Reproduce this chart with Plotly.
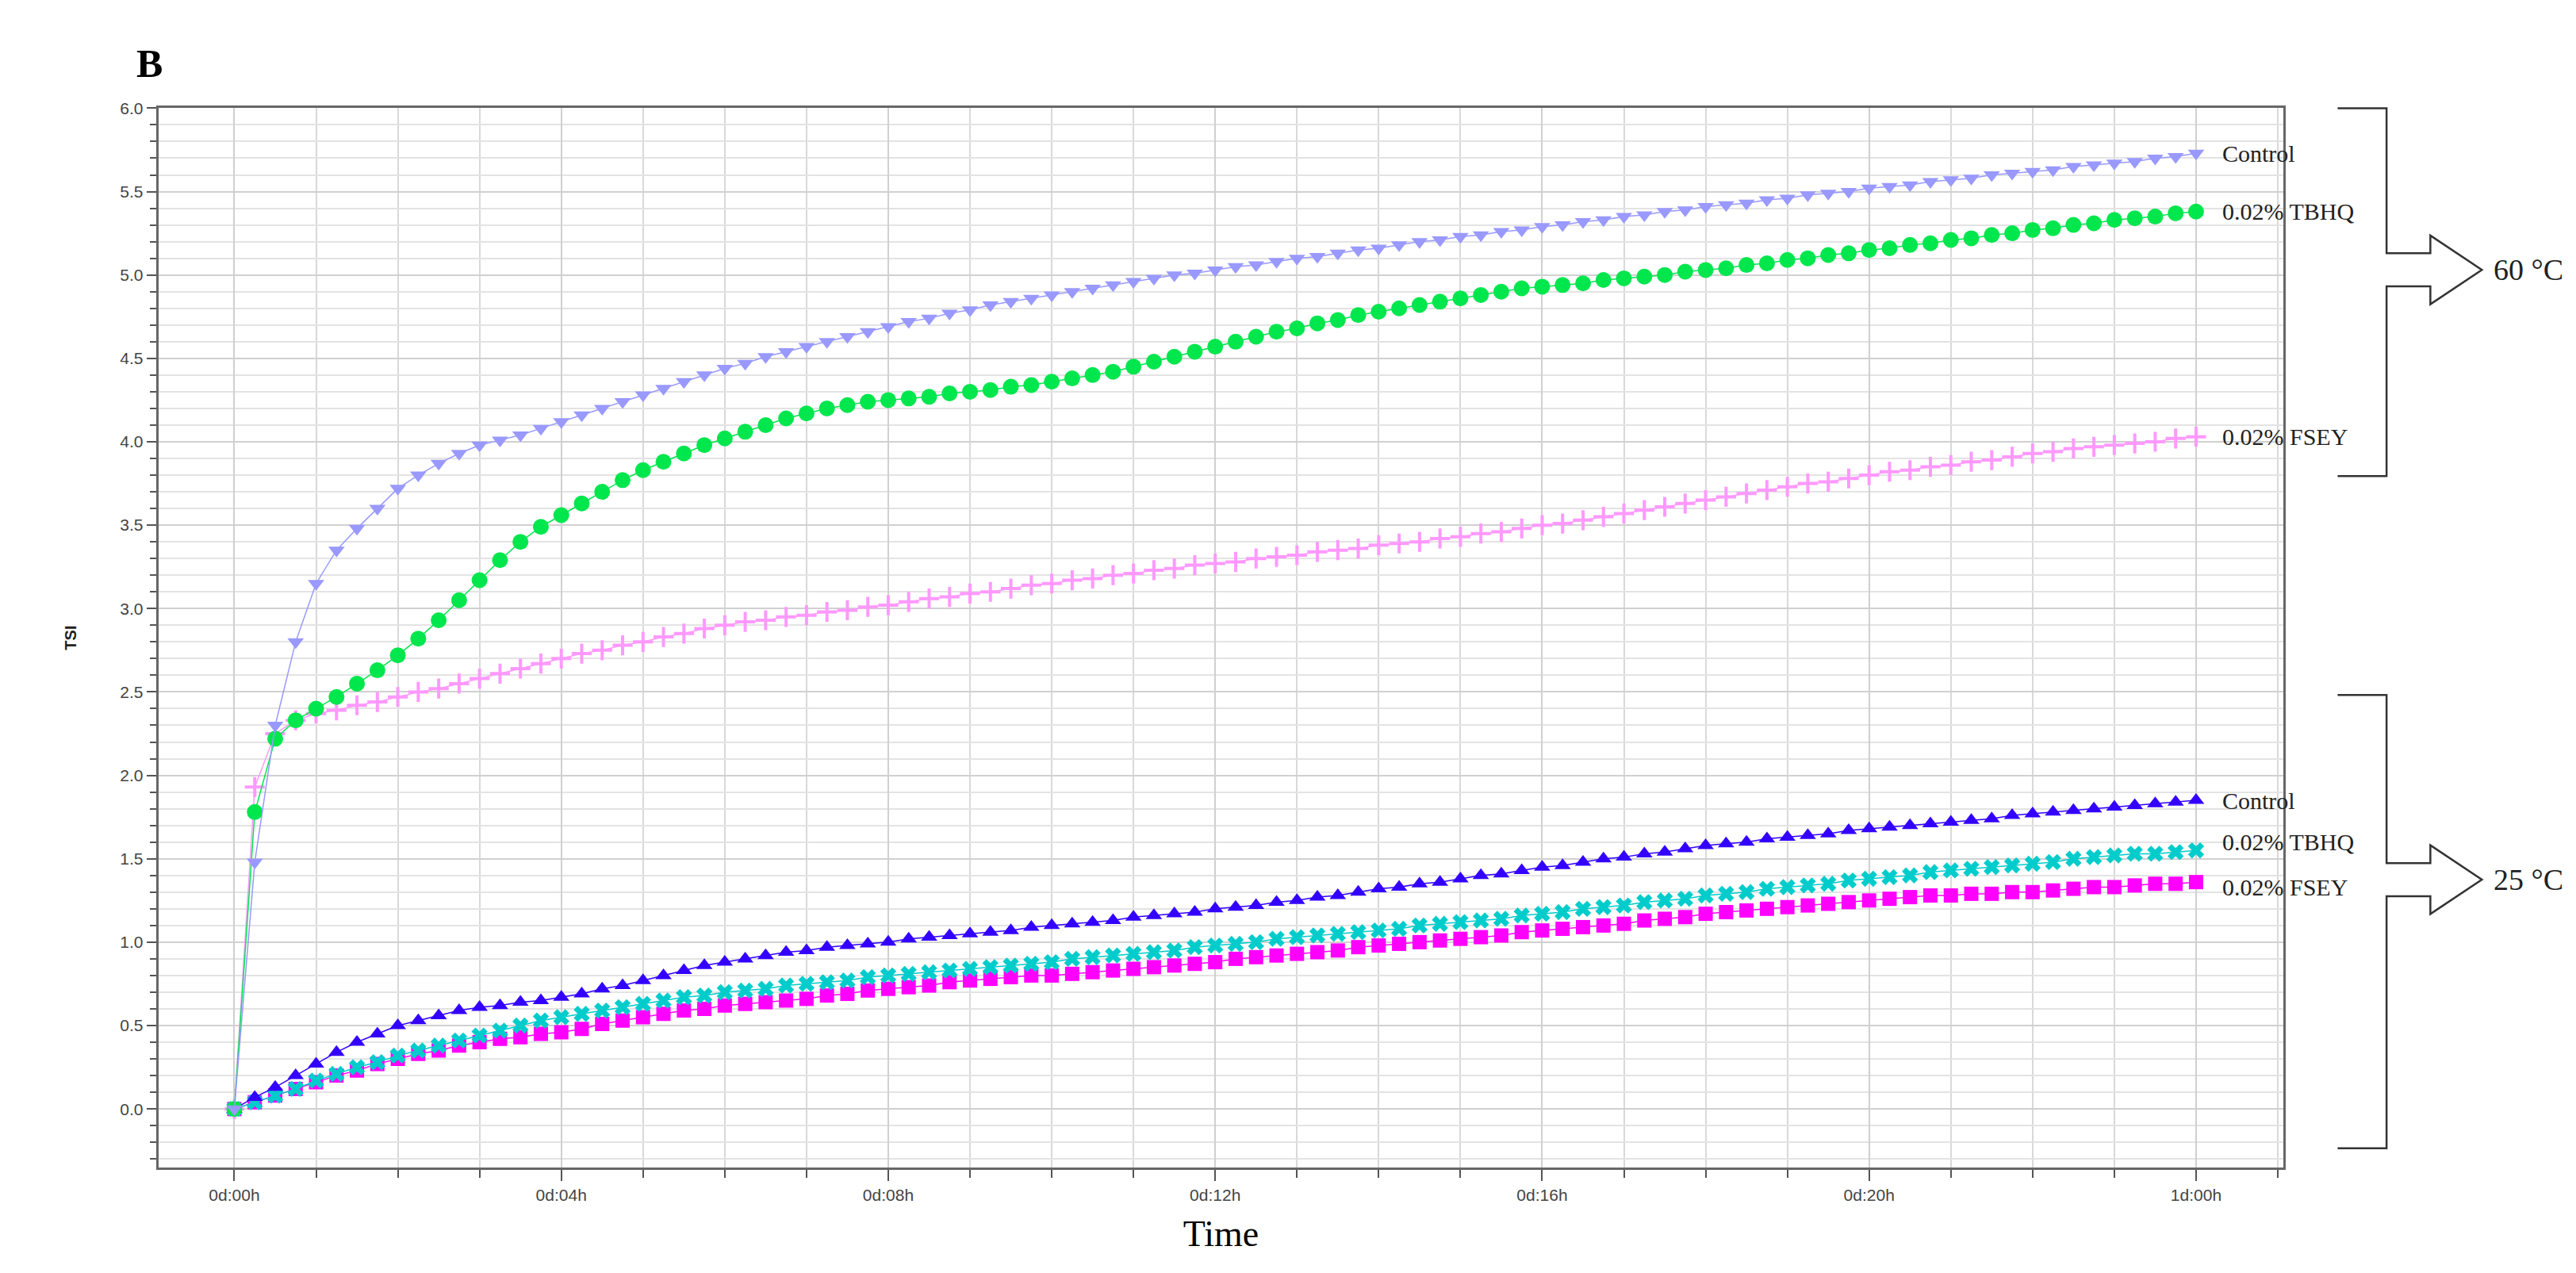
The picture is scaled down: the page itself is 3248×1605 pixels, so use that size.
import plotly.graph_objects as go

time_h = [i * 0.25 for i in range(97)]

ctrl_60 = [0,
 1.48, 2.30, 2.80, 3.15, 3.35, 3.48, 3.60, 3.72, 3.80, 3.87, 3.93, 3.98,
 4.01, 4.04, 4.08, 4.12, 4.16, 4.20, 4.24, 4.28, 4.32, 4.36, 4.40, 4.44,
 4.47, 4.51, 4.54, 4.57, 4.60, 4.63, 4.66, 4.69, 4.72, 4.74, 4.77, 4.79,
 4.82, 4.84, 4.86, 4.88, 4.90, 4.92, 4.94, 4.96, 4.98, 5.00, 5.01, 5.03,
 5.05, 5.06, 5.08, 5.10, 5.11, 5.13, 5.15, 5.16, 5.18, 5.20, 5.21, 5.23,
 5.24, 5.26, 5.27, 5.29, 5.30, 5.32, 5.33, 5.35, 5.36, 5.38, 5.39, 5.41,
 5.42, 5.43, 5.45, 5.46, 5.48, 5.49, 5.50, 5.52, 5.53, 5.54, 5.56, 5.57,
 5.58, 5.60, 5.61, 5.62, 5.63, 5.65, 5.66, 5.67, 5.68, 5.70, 5.71, 5.73]

tbhq_60 = [0,
 1.78, 2.22, 2.33, 2.40, 2.47, 2.55, 2.63, 2.72, 2.82, 2.93, 3.05, 3.17,
 3.29, 3.40, 3.49, 3.56, 3.63, 3.70, 3.77, 3.83, 3.88, 3.93, 3.98, 4.02,
 4.06, 4.10, 4.14, 4.17, 4.20, 4.22, 4.24, 4.25, 4.26, 4.27, 4.29, 4.30,
 4.31, 4.33, 4.34, 4.36, 4.38, 4.40, 4.42, 4.45, 4.48, 4.51, 4.54, 4.57,
 4.60, 4.63, 4.66, 4.68, 4.71, 4.73, 4.76, 4.78, 4.80, 4.82, 4.84, 4.86,
 4.88, 4.90, 4.92, 4.93, 4.94, 4.95, 4.97, 4.98, 4.99, 5.00, 5.02, 5.03,
 5.04, 5.06, 5.07, 5.09, 5.10, 5.12, 5.13, 5.15, 5.16, 5.18, 5.19, 5.21,
 5.22, 5.24, 5.25, 5.27, 5.28, 5.30, 5.31, 5.33, 5.34, 5.35, 5.37, 5.38]

fsey_60 = [0,
 1.93, 2.25, 2.33, 2.37, 2.39, 2.42, 2.44, 2.47, 2.50, 2.52, 2.55, 2.58,
 2.61, 2.64, 2.67, 2.70, 2.73, 2.75, 2.78, 2.80, 2.83, 2.85, 2.88, 2.90,
 2.92, 2.93, 2.95, 2.96, 2.98, 2.99, 3.01, 3.02, 3.04, 3.06, 3.07, 3.09,
 3.10, 3.12, 3.14, 3.15, 3.17, 3.18, 3.20, 3.21, 3.23, 3.24, 3.26, 3.27,
 3.28, 3.30, 3.31, 3.32, 3.34, 3.35, 3.36, 3.38, 3.39, 3.40, 3.42, 3.43,
 3.45, 3.46, 3.48, 3.50, 3.51, 3.53, 3.55, 3.57, 3.59, 3.61, 3.63, 3.65,
 3.67, 3.69, 3.71, 3.73, 3.75, 3.76, 3.78, 3.80, 3.82, 3.83, 3.85, 3.86,
 3.88, 3.89, 3.91, 3.93, 3.94, 3.96, 3.97, 3.98, 3.99, 4.00, 4.02, 4.03]

ctrl_25 = [0,
 0.07, 0.13, 0.20, 0.27, 0.34, 0.40, 0.45, 0.50, 0.53, 0.56, 0.59, 0.61,
 0.62, 0.64, 0.65, 0.67, 0.69, 0.72, 0.74, 0.77, 0.80, 0.83, 0.86, 0.88,
 0.90, 0.92, 0.94, 0.95, 0.97, 0.98, 0.99, 1.00, 1.02, 1.03, 1.04, 1.05,
 1.06, 1.07, 1.09, 1.10, 1.11, 1.12, 1.13, 1.15, 1.16, 1.17, 1.18, 1.20,
 1.21, 1.22, 1.24, 1.25, 1.27, 1.28, 1.30, 1.32, 1.33, 1.35, 1.36, 1.38,
 1.40, 1.41, 1.43, 1.45, 1.46, 1.48, 1.50, 1.51, 1.53, 1.54, 1.56, 1.58,
 1.59, 1.60, 1.62, 1.63, 1.64, 1.65, 1.67, 1.68, 1.69, 1.70, 1.71, 1.72,
 1.73, 1.74, 1.76, 1.77, 1.78, 1.79, 1.80, 1.81, 1.82, 1.83, 1.84, 1.85]

tbhq_25 = [0,
 0.04, 0.08, 0.12, 0.17, 0.21, 0.25, 0.28, 0.32, 0.35, 0.38, 0.41, 0.44,
 0.47, 0.50, 0.53, 0.55, 0.57, 0.59, 0.61, 0.63, 0.65, 0.67, 0.68, 0.70,
 0.71, 0.72, 0.74, 0.75, 0.76, 0.77, 0.79, 0.80, 0.81, 0.82, 0.83, 0.84,
 0.85, 0.86, 0.87, 0.88, 0.90, 0.91, 0.92, 0.93, 0.94, 0.95, 0.97, 0.98,
 0.99, 1.00, 1.02, 1.03, 1.04, 1.05, 1.06, 1.07, 1.08, 1.10, 1.11, 1.12,
 1.13, 1.14, 1.16, 1.17, 1.18, 1.20, 1.21, 1.22, 1.24, 1.25, 1.26, 1.28,
 1.29, 1.30, 1.32, 1.33, 1.34, 1.35, 1.37, 1.38, 1.39, 1.40, 1.42, 1.43,
 1.44, 1.45, 1.46, 1.47, 1.48, 1.50, 1.51, 1.52, 1.53, 1.53, 1.54, 1.55]

fsey_25 = [0,
 0.04, 0.08, 0.12, 0.16, 0.20, 0.23, 0.27, 0.30, 0.33, 0.35, 0.38, 0.40,
 0.42, 0.43, 0.45, 0.46, 0.48, 0.51, 0.53, 0.55, 0.57, 0.59, 0.60, 0.62,
 0.63, 0.64, 0.65, 0.66, 0.68, 0.69, 0.71, 0.72, 0.73, 0.74, 0.76, 0.77,
 0.78, 0.79, 0.80, 0.80, 0.81, 0.82, 0.83, 0.84, 0.85, 0.86, 0.87, 0.88,
 0.90, 0.91, 0.92, 0.93, 0.94, 0.95, 0.97, 0.98, 0.99, 1.00, 1.01, 1.02,
 1.03, 1.04, 1.06, 1.07, 1.08, 1.09, 1.10, 1.11, 1.13, 1.14, 1.15, 1.17,
 1.18, 1.19, 1.20, 1.21, 1.22, 1.23, 1.24, 1.25, 1.26, 1.27, 1.28, 1.28,
 1.29, 1.29, 1.30, 1.30, 1.31, 1.32, 1.33, 1.33, 1.34, 1.35, 1.35, 1.36]

x_tick_vals = [0, 4, 8, 12, 16, 20, 24]
x_tick_text = ["0d:00h", "0d:04h", "0d:08h", "0d:12h", "0d:16h", "0d:20h", "1d:00h"]

series = [
    ("0.02% FSEY", fsey_25, "#ff00ff", "square", 18),
    ("0.02% TBHQ", tbhq_25, "#00cccc", "x", 18),
    ("Control", ctrl_25, "#3300ff", "triangle-up", 18),
    ("0.02% FSEY", fsey_60, "#ff99ff", "cross-thin", 18),
    ("0.02% TBHQ", tbhq_60, "#00e64d", "circle", 20),
    ("Control", ctrl_60, "#9999ff", "triangle-down", 18),
]

fig = go.Figure()
for name, ys, col, sym, sz in series:
    mk = dict(color=col, symbol=sym, size=sz)
    if sym == "cross-thin":
        mk["line"] = dict(color=col, width=4)
    fig.add_trace(go.Scatter(x=time_h, y=ys, mode="lines+markers", name=name,
                             line=dict(color=col, width=1.5), marker=mk,
                             showlegend=False))

label_font = dict(family="Liberation Serif", size=30, color="#222")
for name, ys, col, sym, sz in series:
    dy = 0
    if ys is tbhq_25:
        dy = 0.05
    if ys is fsey_25:
        dy = -0.03
    fig.add_annotation(x=24.3, y=ys[-1] + dy, text=name, showarrow=False,
                       xanchor="left", yanchor="middle", font=label_font)

XD = [0.059, 0.884]
YD = [0.088, 0.920]


def bracket(top, bot, mid):
    x0, x1, x2, x3 = 0.905, 0.924, 0.941, 0.961
    g, h = 0.013, 0.027
    return (f"M {x0} {top} L {x1} {top} L {x1} {mid+g} L {x2} {mid+g} L {x2} {mid+h} "
            f"L {x3} {mid} L {x2} {mid-h} L {x2} {mid-g} L {x1} {mid-g} L {x1} {bot} L {x0} {bot}")


for top, bot, mid, txt in [(0.920, 0.631, 0.793, "60 °C"), (0.459, 0.103, 0.314, "25 °C")]:
    fig.add_shape(type="path", xref="paper", yref="paper", path=bracket(top, bot, mid),
                  line=dict(color="#333", width=2.5))
    fig.add_annotation(xref="paper", yref="paper", x=0.965, y=mid, text=txt, showarrow=False,
                       xanchor="left", yanchor="middle",
                       font=dict(family="Liberation Serif", size=38, color="#222"))

fig.add_annotation(xref="paper", yref="paper", x=0.050, y=0.955, text="<b>B</b>", showarrow=False,
                   xanchor="left", yanchor="middle",
                   font=dict(family="Liberation Serif", size=50, color="#000"))

fig.update_layout(
    width=3248, height=1605, paper_bgcolor="white", plot_bgcolor="white",
    margin=dict(l=0, r=0, t=0, b=0),
    xaxis=dict(domain=XD, range=[-0.93, 25.07], tickvals=x_tick_vals, ticktext=x_tick_text,
               showgrid=True, gridcolor="#d0d0d0", gridwidth=1.5,
               ticks="outside", ticklen=14, tickwidth=2, tickcolor="#555",
               minor=dict(dtick=1, tick0=0, showgrid=True, gridcolor="#d9d9d9", gridwidth=1.5,
                          ticks="outside", ticklen=10, tickcolor="#555"),
               showline=True, linecolor="#666", linewidth=3, mirror=True, zeroline=False,
               automargin=False,
               tickfont=dict(family="Liberation Sans Narrow, Liberation Sans", size=21, color="#444"),
               title=dict(text="Time", font=dict(family="Liberation Serif", size=46, color="#000"),
                          standoff=22)),
    yaxis=dict(domain=YD, range=[-0.35, 6.0], dtick=0.5, tick0=0, tickformat=".1f",
               showgrid=True, gridcolor="#d0d0d0", gridwidth=2,
               ticks="outside", ticklen=12, tickwidth=2, tickcolor="#555",
               minor=dict(dtick=0.1, showgrid=True, gridcolor="#e3e3e3", gridwidth=1.5,
                          ticks="outside", ticklen=8, tickcolor="#555"),
               showline=True, linecolor="#666", linewidth=3, mirror=True, zeroline=False,
               automargin=False,
               tickfont=dict(family="Liberation Sans Narrow, Liberation Sans", size=21, color="#444"),
               title=dict(text="<b>TSI</b>", font=dict(family="Liberation Sans", size=20, color="#222"),
                          standoff=50)),
)

fig.write_html("out.html")
